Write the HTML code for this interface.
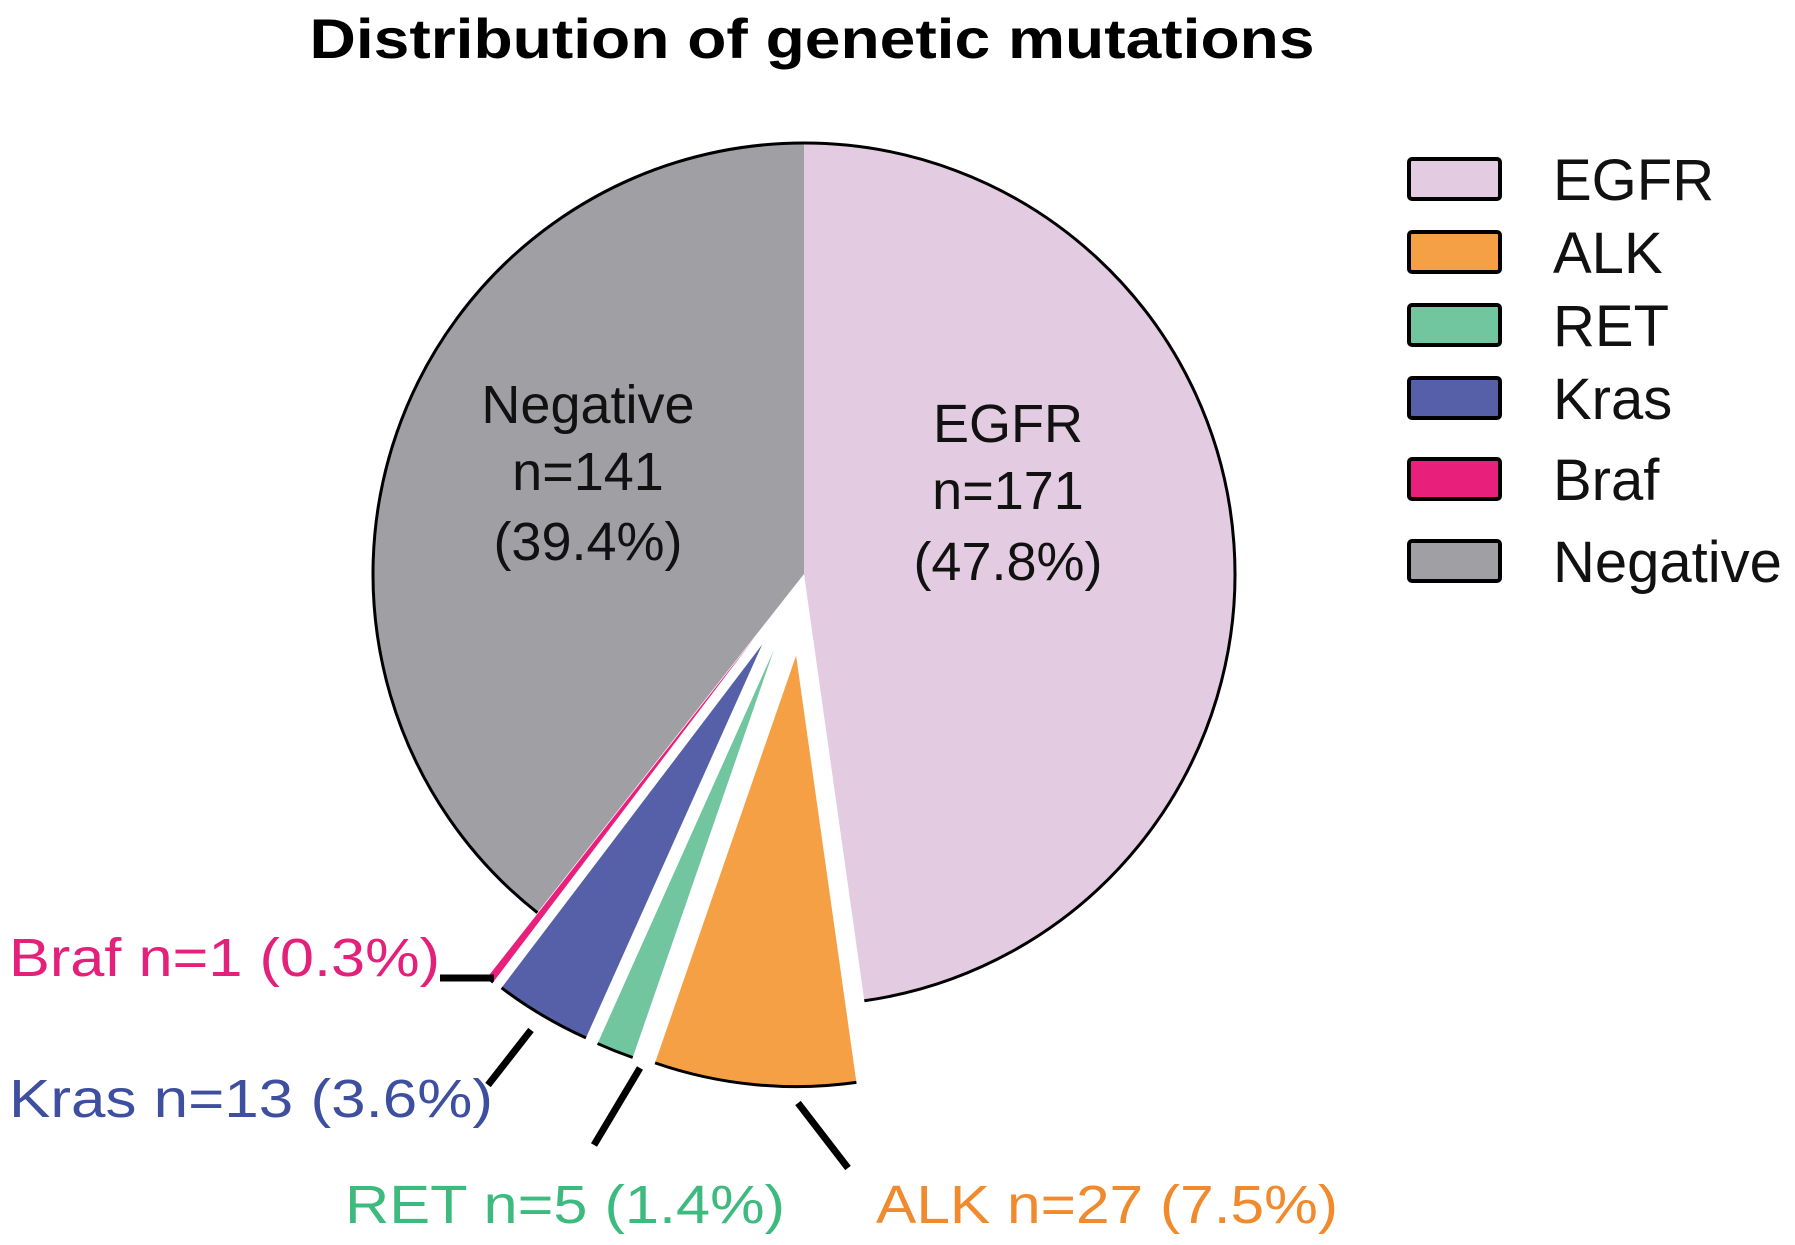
<!DOCTYPE html>
<html><head><meta charset="utf-8"><style>
html,body{margin:0;padding:0;background:#fff;}
svg{display:block;font-family:"Liberation Sans",sans-serif;}
</style></head><body>
<svg id="chart" width="1795" height="1245" viewBox="0 0 1795 1245">
<text x="812" y="58" text-anchor="middle" font-size="56" font-weight="bold" textLength="1005" lengthAdjust="spacingAndGlyphs">Distribution of genetic mutations</text>
<g id="slices"></g>
<g id="labels"></g>
<g id="legend"></g>
</svg>
<script>
const categories = ["EGFR","ALK","RET","Kras","Braf","Negative"];
const counts = [171,27,5,13,1,141];
const percents = ["47.8%","7.5%","1.4%","3.6%","0.3%","39.4%"];
const exploded = [false,true,true,true,true,false];
const colors = ["#e3cbe1","#f6a045","#71c6a0","#5560a8","#e9207b","#a09fa4"];
const labelColors = ["#000","#f08a2c","#3dba7e","#3e4fa0","#e3207a","#000"];

const NS="http://www.w3.org/2000/svg";
const cx=804, cy=574, R=431, OFF=82;
const total=counts.reduce((a,b)=>a+b,0);
function pt(a,r,ox,oy){return [ox+r*Math.sin(a), oy-r*Math.cos(a)];}
function mk(tag,attrs,parent){const e=document.createElementNS(NS,tag);for(const k in attrs)e.setAttribute(k,attrs[k]);parent.appendChild(e);return e;}
const gS=document.getElementById('slices'), gL=document.getElementById('labels'), gG=document.getElementById('legend');
let acc=0;
counts.forEach((v,i)=>{
  const a0=acc/total*2*Math.PI, a1=(acc+v)/total*2*Math.PI; acc+=v;
  const m=(a0+a1)/2;
  const ox=cx+(exploded[i]?OFF*Math.sin(m):0), oy=cy-(exploded[i]?OFF*Math.cos(m):0);
  const p0=pt(a0,R,ox,oy), p1=pt(a1,R,ox,oy);
  const large=(a1-a0)>Math.PI?1:0;
  const s=mk('path',{d:`M${ox},${oy}L${p0[0]},${p0[1]}A${R},${R} 0 ${large} 1 ${p1[0]},${p1[1]}Z`,fill:colors[i]},gS);
  
  
  const arc=mk('path',{d:`M${p0[0]},${p0[1]}A${R},${R} 0 ${large} 1 ${p1[0]},${p1[1]}`,fill:'none',stroke:'#000','stroke-width':3},gS);
  
  
});
function inside(i,x,ys){
  const lines=[categories[i],'n='+counts[i],'('+percents[i]+')'];
  lines.forEach((t,k)=>{
    const e=mk('text',{x:x,y:ys[k],'text-anchor':'middle','font-size':54,fill:'#111'},gL);
    e.textContent=t;
    
    
  });
}
inside(0,1008,[442,509,580]);
inside(5,588,[423,490,560]);
const outPos={1:[876,1223,462],2:[345,1223,440],3:[9,1117,484],4:[9,976,431]};
const leaders={1:[798,1103,848,1168],2:[640,1068,594,1145],3:[531,1030,488,1085],4:[440,978,494,978]};
[1,2,3,4].forEach(i=>{
  const p=outPos[i];
  const e=mk('text',{x:p[0],y:p[1],'font-size':54,fill:labelColors[i],textLength:p[2],lengthAdjust:'spacingAndGlyphs'},gL);
  e.textContent=categories[i]+' n='+counts[i]+' ('+percents[i]+')';
  
  
  const l=leaders[i];
  const ln=mk('line',{x1:l[0],y1:l[1],x2:l[2],y2:l[3],stroke:'#000','stroke-width':7},gL);
  
  
});
const legCenters=[179,252,325,398,479,561];
categories.forEach((c,i)=>{
  const r=mk('rect',{x:1409,y:legCenters[i]-20,width:91,height:40,rx:3,fill:colors[i],stroke:'#000','stroke-width':4},gG);
  
  
  const t=mk('text',{x:1553,y:legCenters[i]+21,'font-size':58,fill:'#111'},gG);
  t.textContent=c;
  
  
});
</script>
</body></html>
